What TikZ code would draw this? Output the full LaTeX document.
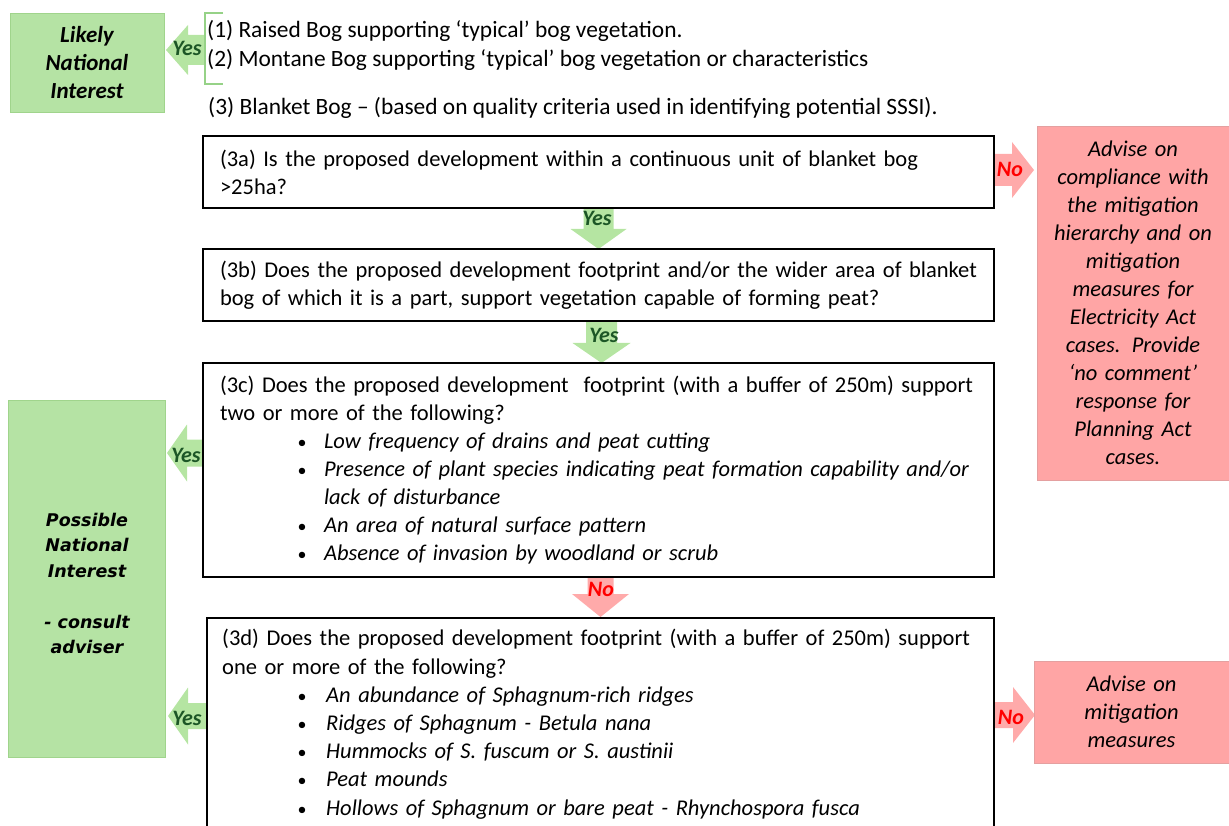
\documentclass[tikz,border=0pt]{standalone}
\usepackage{fontspec}
\setmainfont{Carlito}
\newfontfamily\verdfont{DejaVu Sans}
\usetikzlibrary{calc}
\definecolor{gfill}{RGB}{181,227,164}
\definecolor{gedge}{RGB}{160,212,140}
\definecolor{rfill}{RGB}{255,165,165}
\definecolor{redge}{RGB}{228,160,160}
\definecolor{gtext}{RGB}{28,86,38}
\definecolor{rtext}{RGB}{255,0,0}
\definecolor{garrow}{RGB}{181,229,162}
\definecolor{rarrow}{RGB}{255,170,170}
\definecolor{brkc}{RGB}{150,210,135}
\newcommand\blockarrow[6]{% tail, tip, shaft half, head half, head length, style
  \coordinate (ba-h) at ($(#2)!#5pt!(#1)$);
  \fill[#6] ($(#1)!#3pt!90:(#2)$) -- ($(ba-h)!#3pt!90:(#2)$) -- ($(ba-h)!#4pt!90:(#2)$)
    -- (#2) -- ($(ba-h)!#4pt!-90:(#2)$) -- ($(ba-h)!#3pt!-90:(#2)$) -- ($(#1)!#3pt!-90:(#2)$) -- cycle;
}
\newcommand\bdot{{\fontsize{18}{18}\selectfont•}}
\newcommand\bul[1]{\mbox{\hspace*{82pt}\makebox[0pt]{\bdot}\hspace*{22pt}\textit{#1}}}
\newcommand\bulb[1]{\mbox{\hspace*{80pt}\makebox[0pt]{\bdot}\hspace*{24pt}\textit{#1}}}
\begin{document}
\begin{tikzpicture}[x=1pt,y=-1pt,
  every node/.style={font=\fontsize{22.5}{28}\selectfont, inner sep=0pt},
  qbox/.style={draw=black, line width=1.8pt, fill=white, text width=757pt, inner xsep=17pt, minimum width=791pt, align=left},
  gbox/.style={draw=gedge, line width=0.8pt, fill=gfill},
  rbox/.style={draw=redge, line width=0.8pt, fill=rfill, align=center, font=\fontsize{22.5}{28}\selectfont\itshape},
  topline/.style={anchor=base west, font=\fontsize{23.4}{28}\selectfont},
  yeslab/.style={font=\fontsize{22}{22}\selectfont\bfseries\itshape, text=gtext},
  nolab/.style={font=\fontsize{22}{22}\selectfont\bfseries\itshape, text=rtext},
  ga/.style={fill=garrow}, ra/.style={fill=rarrow}]
\useasboundingbox (0,0) rectangle (1229,826);

% positions of the boxes
\coordinate (lni) at (87,62.5);
\coordinate (r1) at (1133,303);
\coordinate (r2) at (1131.5,712);
\path (598.5,172) coordinate (c3a) (598.5,285) coordinate (c3b) (598.5,470) coordinate (c3c);
\coordinate (b3aS) at (598.5,208);
\coordinate (b3bN) at (598.5,249);
\coordinate (b3bS) at (601.5,321);
\coordinate (b3cN) at (601.5,363);
\coordinate (b3cS) at (600.5,577);
\coordinate (b3dN) at (600.5,617);

% outcome boxes
\node[gbox, minimum width=154pt, minimum height=99pt, align=center, font=\fontsize{23}{28}\selectfont\bfseries\itshape] (lnibox) at (lni) {Likely\\National\\Interest};
\node[gbox, minimum width=157pt, minimum height=357pt] (pni) at (86.5,578.5) {};
\node[align=center, font=\fontsize{17.5}{25.5}\selectfont\verdfont\bfseries\itshape] (pnitext) at (87,583.5)
  {Possible\\National\\Interest\\[25.5pt]- consult\\adviser};

% arrows (drawn beneath the question boxes)
\coordinate (yA) at (204,50);
\coordinate (yAt) at (166,50);
\blockarrow{yA}{yAt}{15}{25}{22}{ga}
\blockarrow{b3aS}{b3bN}{15}{28}{20}{ga}
\blockarrow{b3bS}{b3cN}{15.5}{29}{20}{ga}
\blockarrow{b3cS}{b3dN}{13}{28.5}{23}{ra}
\coordinate (y3c) at (204,453); \coordinate (y3ct) at (167,453);
\blockarrow{y3c}{y3ct}{13.5}{28.5}{20}{ga}
\coordinate (y3d) at (207,716); \coordinate (y3dt) at (168,716);
\blockarrow{y3d}{y3dt}{13}{28.5}{20}{ga}
\coordinate (n3a) at (993,170); \coordinate (n3at) at (1034,170);
\blockarrow{n3a}{n3at}{16}{28}{22}{ra}
\coordinate (n3d) at (993,715); \coordinate (n3dt) at (1035,715);
\blockarrow{n3d}{n3dt}{13}{28}{22}{ra}

\node[rbox, minimum width=192pt, minimum height=354pt, text width=190pt] (r1box) at (r1)
  {Advise on\\compliance with\\the mitigation\\hierarchy and on\\mitigation\\measures for\\Electricity Act\\cases. Provide\\‘no comment’\\response for\\Planning Act\\cases.};
\node[rbox, minimum width=195pt, minimum height=102pt, text width=190pt] (r2box) at (r2)
  {Advise on\\mitigation\\measures};

% bracket and top statements
\draw[brkc, line width=1.8pt] (223,13) -- (205,13) -- (205,84) -- (223,84);
\node[topline] (s1) at (207,38) {(1) Raised Bog supporting ‘typical’ bog vegetation.};
\node[topline] (s2) at (207,67) {(2) Montane Bog supporting ‘typical’ bog vegetation or characteristics};
\node[topline] (s3) at (208,115) {(3) Blanket Bog – (based on quality criteria used in identifying potential SSSI).};

% question boxes
\node[qbox, minimum height=72pt] (b3a) at (c3a)
  {\mbox{(3a) Is the proposed development within a continuous unit of blanket bog}\\\mbox{>25ha?}};
\node[qbox, minimum height=72pt] (b3b) at (c3b)
  {\mbox{(3b) Does the proposed development footprint and/or the wider area of blanket}\\\mbox{bog of which it is a part, support vegetation capable of forming peat?}};
\node[qbox, minimum height=214pt] (b3c) at (c3c)
  {\mbox{(3c) Does the proposed development\ \ footprint (with a buffer of 250m) support}\\
   \mbox{two or more of the following?}\\
   \bul{Low frequency of drains and peat cutting}\\
   \bul{Presence of plant species indicating peat formation capability and/or}\\
   \mbox{\hspace*{104pt}\textit{lack of disturbance}}\\
   \bul{An area of natural surface pattern}\\
   \bul{Absence of invasion by woodland or scrub}};
\node[draw=black, line width=1.8pt, fill=white, anchor=north west, minimum width=787pt, minimum height=240pt] (b3d) at (206,617) {};
\node[anchor=north west, align=left, text width=760pt, font=\fontsize{22.5}{28.2}\selectfont] (b3dtext) at (222,626)
  {\strut\mbox{(3d) Does the proposed development footprint (with a buffer of 250m) support}\\
   \mbox{one or more of the following?}\\
   \bulb{An abundance of Sphagnum-rich ridges}\\
   \bulb{Ridges of Sphagnum - Betula nana}\\
   \bulb{Hummocks of S. fuscum or S. austinii}\\
   \bulb{Peat mounds}\\
   \bulb{Hollows of Sphagnum or bare peat - Rhynchospora fusca}};

% arrow labels
\node[yeslab] (l1) at (187,48) {Yes};
\node[yeslab] (l2) at (597,218) {Yes};
\node[yeslab] (l3) at (604,335) {Yes};
\node[nolab] (l4) at (601,589) {No};
\node[yeslab] (l5) at (186,455) {Yes};
\node[yeslab] (l6) at (187,718) {Yes};
\node[nolab] (l7) at (1010,169) {No};
\node[nolab] (l8) at (1011,717) {No};
\end{tikzpicture}
\end{document}
